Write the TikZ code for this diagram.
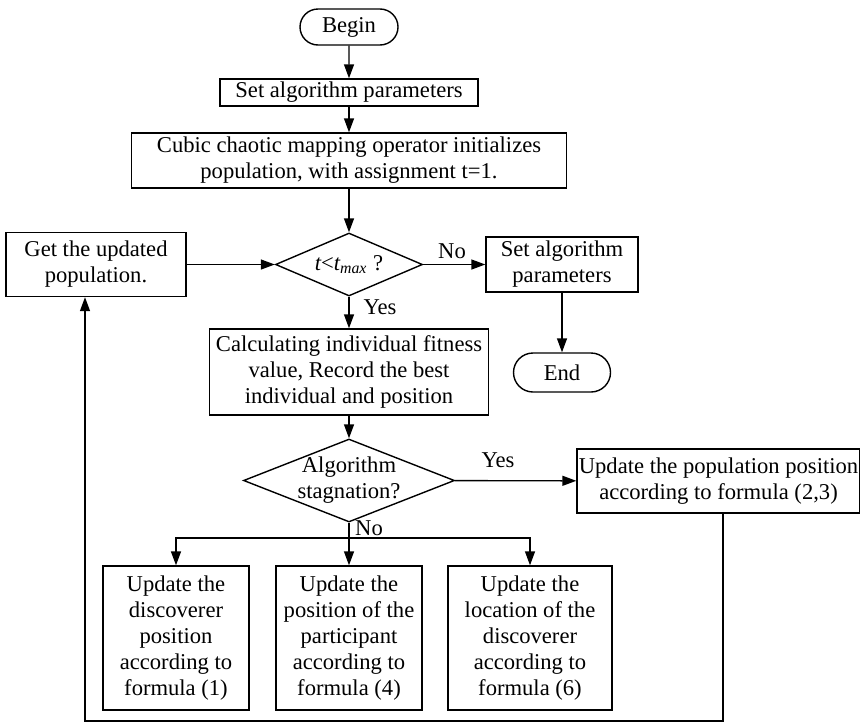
\documentclass[tikz,border=0pt]{standalone}
\usepackage{fontspec}
\setmainfont{Liberation Serif}
\usetikzlibrary{positioning}
\usetikzlibrary{arrows.meta, shapes}
\tikzset{
    box/.style={draw, rectangle, align=center, inner sep=1pt, line width=0.7pt},
    term/.style={draw, rounded rectangle, inner sep=1pt, line width=0.7pt},
    decision/.style={draw, diamond, inner sep=0pt, line width=0.7pt},
    flow/.style={line width=0.7pt, -{Triangle[length=7pt, width=5pt]}},
    plain/.style={line width=0.7pt}
}

\begin{document}
\begin{tikzpicture}[x=0.5pt, y=-0.5pt, font=\fontsize{11.3}{13}\selectfont]
    \useasboundingbox (0,0) rectangle (860,723);

    % Begin and the first two steps
    \node[term, minimum width=51pt, minimum height=18pt] (begin) at (349,27) {Begin};
    \node[box, minimum width=129pt, minimum height=13.5pt] (setpar) at (349,92.5) {Set algorithm parameters};
    \node[box, minimum width=217.5pt, minimum height=27.5pt] (init) at (349,160.5) {Cubic chaotic mapping operator initializes\\population, with assignment t=1.};
    \draw[flow] (begin) -- (setpar);
    \draw[flow] (setpar) -- (init);

    % Loop test t < t_max
    \node[decision, minimum width=73.5pt, minimum height=31.5pt,
          label=center:{\itshape t\upshape<\itshape t\textsubscript{max}\upshape{} ?}] (cond) at (349,264.5) {};
    \draw[flow] (init) -- (cond);

    % Updated population comes back into the test
    \node[box, minimum width=90pt, minimum height=32pt] (getpop) at (96,264.5) {Get the updated\\population.};
    \draw[flow] (getpop) -- (cond);

    % No: stop
    \node[box, minimum width=76pt, minimum height=27.5pt] (stop) at (562,264.5) {Set algorithm\\parameters};
    \node[term, minimum width=50.5pt, minimum height=19.5pt] (end) at (562,372.5) {End};
    \draw[flow] (cond) -- (stop);
    \node (no1) at (452,251) {No};
    \draw[flow] (stop) -- (end);

    % Yes: fitness
    \node[box, minimum width=139.5pt, minimum height=43pt] (fitness) at (349,372) {Calculating individual fitness\\value, Record the best\\individual and position};
    \draw[flow] (cond) -- (fitness);
    \node (yes1) at (380,307) {Yes};

    % Stagnation test
    \node[decision, minimum width=105.5pt, minimum height=41.5pt,
          label={[align=center]center:Algorithm\\stagnation?}] (stag) at (349,480.5) {};
    \draw[flow] (fitness) -- (stag);

    % Yes: update with formula (2,3)
    \node[box, inner sep=0pt, minimum width=141.5pt, minimum height=32pt] (updpop) at (718.5,481) {Update the population position\\according to formula (2,3)};
    \draw[flow] (stag) -- (updpop);
    \node (yes2) at (498,460) {Yes};

    % No: three updates
    \node[box, minimum width=73pt, minimum height=72pt] (upda) at (176,638) {Update the\\discoverer\\position\\according to\\formula (1)};
    \node[box, minimum width=73pt, minimum height=72pt] (updb) at (349,638) {Update the\\position of the\\participant\\according to\\formula (4)};
    \node[box, minimum width=82pt, minimum height=72pt] (updc) at (530,638) {Update the\\location of the\\discoverer\\according to\\formula (6)};
    \coordinate (split) at (349,538);
    \draw[plain] (stag.south) -- (split);
    \draw[flow] (split) -| (upda.north);
    \draw[flow] (split) -- (updb.north);
    \draw[flow] (split) -| (updc.north);
    \node (no2) at (369,528) {No};

    % Feedback line to the updated population
    \coordinate (loopr) at (723,721);
    \coordinate (loopl) at (85,721);
    \draw[flow] (updpop.south -| loopr) -- (loopr) -- (loopl) -- (loopl |- getpop.south);
\end{tikzpicture}
\end{document}
